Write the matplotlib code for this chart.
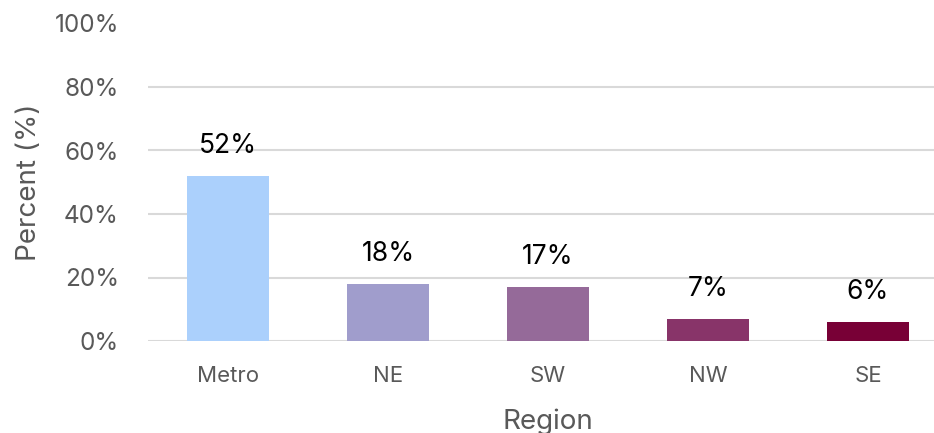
import numpy as np
import matplotlib.pyplot as plt
from matplotlib.ticker import PercentFormatter

# data
regions = ["Metro", "NE", "SW", "NW", "SE"]
percent = [52, 18, 17, 7, 6]
bar_colors = ["#abd0fc", "#a09dcc", "#956a99", "#883469", "#780036"]

plt.rcParams['font.family'] = ['Inter', 'DejaVu Sans']

fig = plt.figure(figsize=(9.34, 4.33), dpi=100)
ax = fig.add_axes([148 / 934, 92 / 433, 800 / 934, 317.5 / 433])

x = np.arange(len(regions))
bars = ax.bar(x, percent, width=0.51, color=bar_colors, zorder=3)

for xi, v in zip(x, percent):
    ax.annotate(f"{v}%", (xi, v), xytext=(0, 12), textcoords="offset points",
                ha="center", va="bottom", fontsize=19, color="black")

ax.set_xlim(-0.5, len(regions) - 0.5)
ax.set_ylim(0, 100)
ax.set_yticks(np.arange(0, 101, 20))
ax.yaxis.set_major_formatter(PercentFormatter(decimals=0))
ax.set_xticks(x)
ax.set_xticklabels(regions)

# horizontal gridlines (none at the top)
for yv in range(0, 81, 20):
    ax.axhline(yv, color="#d9d9d9", lw=1.5, zorder=1)

for s in ax.spines.values():
    s.set_visible(False)
ax.tick_params(axis="y", length=0, pad=21, labelsize=17.5, labelcolor="#595959")
ax.tick_params(axis="x", length=0, pad=18, labelsize=16, labelcolor="#595959")

ax.set_ylabel("Percent (%)", fontsize=20, color="#595959", labelpad=9)
ax.set_xlabel("Region", fontsize=20, color="#595959", labelpad=16)

fig.savefig("out.png", dpi=100)
